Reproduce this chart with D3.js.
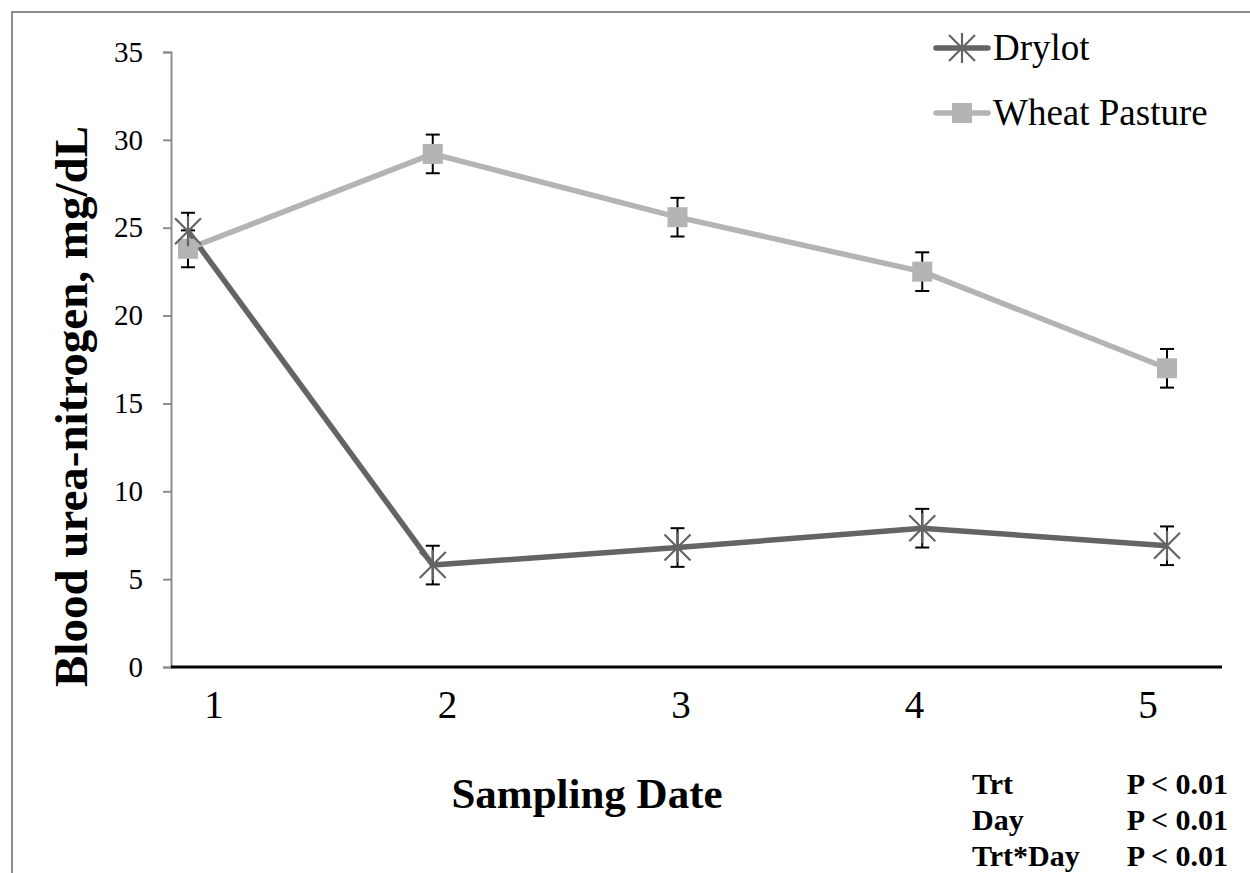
<!DOCTYPE html>
<html>
<head>
<meta charset="utf-8">
<script src="https://cdn.jsdelivr.net/npm/d3@7"></script>
<style>
  body { margin: 0; background: #fff; }
  text { font-family: "Liberation Serif", "Times New Roman", serif; }
</style>
</head>
<body>
<div id="chart"></div>
<script>
const days = [1, 2, 3, 4, 5];
const drylot = [24.8, 5.8, 6.8, 7.9, 6.9];
const wheat = [23.8, 29.2, 25.6, 22.5, 17.0];
const drylotErr = [1.05, 1.1, 1.1, 1.1, 1.1];
const wheatErr = [1.05, 1.1, 1.1, 1.1, 1.1];
const yTicks = [0, 5, 10, 15, 20, 25, 30, 35];
const stats = [
  { term: 'Trt', p: 'P < 0.01' },
  { term: 'Day', p: 'P < 0.01' },
  { term: 'Trt*Day', p: 'P < 0.01' },
];

const width = 1250;
const height = 873;
const plot = { left: 171, right: 1222, top: 52, bottom: 667 };

const svg = d3.select('#chart')
  .append('svg')
  .attr('width', width)
  .attr('height', height);

// outer frame (top and left edges only are in view)
svg.append('path')
  .attr('d', `M12,${height} V12 H${width}`)
  .attr('fill', 'none')
  .attr('stroke', '#8c8c8c')
  .attr('stroke-width', 2);

const x = d3.scalePoint()
  .domain(days)
  .range([188, 1167]);

// category labels sit a little off the markers, as in the original
const xLabel = d3.scalePoint()
  .domain(days)
  .range([214, 1148]);

const y = d3.scaleLinear()
  .domain([0, 35])
  .range([plot.bottom, plot.top]);

// y axis
const yAxis = svg.append('g')
  .attr('transform', `translate(${plot.left},0)`)
  .call(d3.axisLeft(y).tickValues(yTicks).tickSize(8).tickPadding(20));
yAxis.select('.domain').attr('stroke', '#8c8c8c').attr('stroke-width', 2);
yAxis.selectAll('.tick line').attr('stroke', '#8c8c8c').attr('stroke-width', 2);
yAxis.selectAll('.tick text')
  .attr('font-family', '"Liberation Serif", serif')
  .attr('font-size', 29)
  .attr('fill', '#000');

// x axis
svg.append('line')
  .attr('x1', plot.left).attr('x2', plot.right)
  .attr('y1', y(0)).attr('y2', y(0))
  .attr('stroke', '#000')
  .attr('stroke-width', 3);

svg.append('g')
  .selectAll('text')
  .data(days)
  .join('text')
  .attr('x', (d) => xLabel(d))
  .attr('y', 718)
  .attr('text-anchor', 'middle')
  .attr('font-size', 39)
  .text((d) => d);

// axis titles
svg.append('text')
  .attr('transform', `translate(87,${(125 + 688) / 2}) rotate(-90)`)
  .attr('text-anchor', 'middle')
  .attr('font-weight', 'bold')
  .attr('font-size', 47)
  .text('Blood urea-nitrogen, mg/dL');

svg.append('text')
  .attr('x', 587)
  .attr('y', 808)
  .attr('text-anchor', 'middle')
  .attr('font-weight', 'bold')
  .attr('font-size', 43)
  .text('Sampling Date');

// series
const series = [
  { name: 'Drylot', values: drylot, err: drylotErr, color: '#646464', marker: 'star' },
  { name: 'Wheat Pasture', values: wheat, err: wheatErr, color: '#b4b4b4', marker: 'square' },
];

const line = d3.line()
  .x((d) => x(d.day))
  .y((d) => y(d.value));

const rows = series.map((s) => ({
  ...s,
  points: days.map((day, i) => ({ day, value: s.values[i], err: s.err[i] })),
}));

// error bars
const cap = 7;
rows.forEach((s) => {
  const g = svg.append('g').attr('stroke', '#000').attr('stroke-width', 2);
  s.points.forEach((p) => {
    const top = y(p.value + p.err);
    const bot = y(p.value - p.err);
    g.append('line').attr('x1', x(p.day)).attr('x2', x(p.day)).attr('y1', top).attr('y2', bot);
    g.append('line').attr('x1', x(p.day) - cap).attr('x2', x(p.day) + cap).attr('y1', top).attr('y2', top);
    g.append('line').attr('x1', x(p.day) - cap).attr('x2', x(p.day) + cap).attr('y1', bot).attr('y2', bot);
  });
});

function drawMarker(g, kind, cx, cy, color) {
  if (kind === 'square') {
    g.append('rect')
      .attr('x', cx - 10).attr('y', cy - 10)
      .attr('width', 20).attr('height', 20)
      .attr('fill', color);
  } else {
    const r = 13;
    g.append('path')
      .attr('d', `M${cx - r},${cy - r}L${cx + r},${cy + r}M${cx + r},${cy - r}L${cx - r},${cy + r}M${cx},${cy - r - 2}V${cy + r + 2}`)
      .attr('stroke', color)
      .attr('stroke-width', 2.2)
      .attr('fill', 'none');
  }
}

rows.forEach((s) => {
  svg.append('path')
    .attr('d', line(s.points))
    .attr('fill', 'none')
    .attr('stroke', s.color)
    .attr('stroke-width', 5.5)
    .attr('stroke-linejoin', 'round');
});

rows.slice().reverse().forEach((s) => {
  const g = svg.append('g');
  s.points.forEach((p) => drawMarker(g, s.marker, x(p.day), y(p.value), s.color));
});

// legend
const legend = svg.append('g');
rows.forEach((s, i) => {
  const ly = 48 + i * 65;
  legend.append('line')
    .attr('x1', 936).attr('x2', 988)
    .attr('y1', ly).attr('y2', ly)
    .attr('stroke', s.color)
    .attr('stroke-width', 5.5)
    .attr('stroke-linecap', 'round');
  drawMarker(legend, s.marker, 962, ly, s.color);
  legend.append('text')
    .attr('x', 993)
    .attr('y', ly + 12)
    .attr('font-size', 37)
    .text(s.name);
});

// statistics box
const st = svg.append('g').attr('font-weight', 'bold').attr('font-size', 30);
stats.forEach((d, i) => {
  st.append('text').attr('x', 972).attr('y', 794 + i * 36).text(d.term);
  st.append('text').attr('x', 1228).attr('y', 794 + i * 36).attr('text-anchor', 'end').text(d.p);
});
</script>
</body>
</html>
